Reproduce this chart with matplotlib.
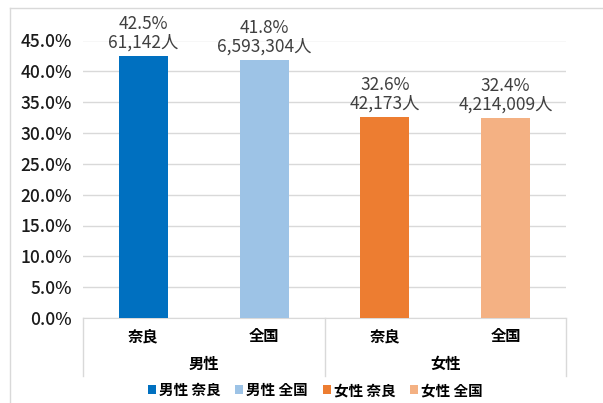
import matplotlib
matplotlib.use("Agg")
import matplotlib.pyplot as plt
import matplotlib.transforms as mtransforms
from matplotlib.lines import Line2D
from matplotlib.patches import Patch

plt.rcParams['font.family'] = ['Noto Sans CJK JP', 'DejaVu Sans']

categories = ["奈良", "全国", "奈良", "全国"]
groups = ["男性", "女性"]
series_names = ["男性 奈良", "男性 全国", "女性 奈良", "女性 全国"]
values = [0.425, 0.418, 0.326, 0.324]
counts = ["61,142人", "6,593,304人", "42,173人", "4,214,009人"]
colors = ["#0070C0", "#9DC3E6", "#ED7D31", "#F4B183"]
yticks = [0.0, 0.05, 0.10, 0.15, 0.20, 0.25, 0.30, 0.35, 0.40, 0.45]

W, H = 603, 403
fig = plt.figure(figsize=(W / 100, H / 100), dpi=100)
ax = fig.add_axes([83 / W, 1 - 318 / H, (566 - 83) / W, (318 - 40.5) / H])


def fy(py):
    return 1 - py / H


x = list(range(len(values)))
ax.bar(x, values, width=0.405, color=colors, zorder=3)
ax.set_xlim(-0.5, len(values) - 0.5)
ax.set_ylim(0, 0.45)
ax.set_yticks(yticks)
ax.set_yticklabels([f"{t*100:.1f}%" for t in yticks], fontsize=12.5, color="#1a1a1a",
                   fontweight="medium")
ax.yaxis.grid(True, color="#D9D9D9", linewidth=1, zorder=0)
ax.tick_params(axis='y', length=0, pad=8)
ax.tick_params(axis='x', length=0, labelbottom=False)
for s in ["top", "right", "left"]:
    ax.spines[s].set_visible(False)
ax.spines["bottom"].set_color("#D9D9D9")

for xi, v, c in zip(x, values, counts):
    ax.annotate(f"{v*100:.1f}%\n{c}", (xi, v), xytext=(0, 3), textcoords="offset points",
                ha="center", va="bottom", fontsize=12.5, color="#404040",
                linespacing=1.05, annotation_clip=False)

tr = mtransforms.blended_transform_factory(ax.transData, fig.transFigure)
for xi, cat in zip(x, categories):
    ax.text(xi, fy(336), cat, transform=tr, ha="center", va="center",
            fontsize=11, color="#000000", fontweight="bold", clip_on=False)

for gi, g in enumerate(groups):
    ax.text(0.5 + 2 * gi, fy(364), g, transform=tr, ha="center", va="center",
            fontsize=11, fontweight="bold", color="#000000", clip_on=False)

# hierarchical separators
for px in [83, 324.5, 566]:
    fig.add_artist(Line2D([px / W, px / W], [fy(318), fy(376)], color="#D9D9D9", linewidth=1))

handles = [Patch(facecolor=c, edgecolor="none") for c in colors]
fig.legend(handles, series_names, loc="center", bbox_to_anchor=(0.523, fy(390)), ncol=4,
           frameon=False, handlelength=0.55, handleheight=0.55,
           handletextpad=0.2, columnspacing=1.0, prop={'weight': 'bold', 'size': 10.5})

# outer frame (top and left)
fig.add_artist(Line2D([10 / W, 1], [fy(8), fy(8)], color="#D9D9D9", linewidth=1))
fig.add_artist(Line2D([10 / W, 10 / W], [fy(8), 0], color="#D9D9D9", linewidth=1))

fig.savefig("out.png", dpi=100)
